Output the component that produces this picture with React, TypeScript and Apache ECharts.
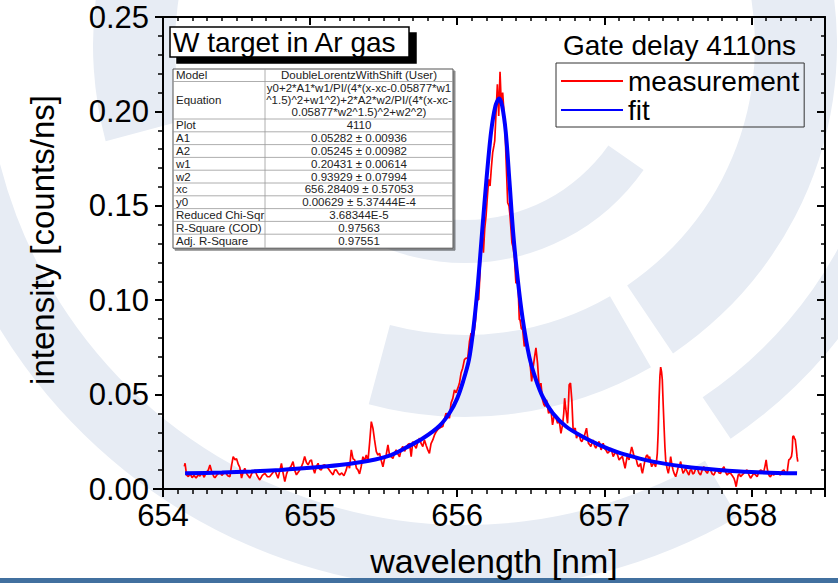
import React, { useEffect, useRef } from "react";
import * as echarts from "echarts";

// ---- data (wavelength [nm], intensity [counts/ns]) ----
const measLeftWing: [number, number][] = [
  [654.145, 0.012], [654.15, 0.0136], [654.16, 0.0075], [654.172, 0.0066], [654.185, 0.008],
  [654.198, 0.006], [654.21, 0.0072], [654.225, 0.0058], [654.24, 0.0075], [654.251, 0.0068],
  [654.265, 0.0085], [654.28, 0.0062], [654.295, 0.009], [654.308, 0.01], [654.319, 0.0127],
  [654.33, 0.0095], [654.345, 0.0066], [654.353, 0.006], [654.37, 0.0078], [654.387, 0.009],
  [654.4, 0.0072], [654.421, 0.0092], [654.44, 0.007], [654.455, 0.0065], [654.465, 0.012],
  [654.477, 0.0171], [654.49, 0.0155], [654.5, 0.016], [654.512, 0.013], [654.522, 0.0115],
  [654.534, 0.0058], [654.545, 0.009], [654.556, 0.011], [654.57, 0.008], [654.59, 0.0058],
  [654.605, 0.0085], [654.624, 0.01], [654.64, 0.007], [654.658, 0.0048], [654.675, 0.0072],
  [654.692, 0.0083], [654.71, 0.0065], [654.726, 0.0066], [654.745, 0.0085], [654.76, 0.0101],
  [654.77, 0.008], [654.782, 0.0057], [654.795, 0.01], [654.805, 0.0136], [654.815, 0.009],
  [654.828, 0.0039], [654.84, 0.008], [654.85, 0.0101], [654.87, 0.012], [654.884, 0.0145],
  [654.895, 0.01], [654.907, 0.0075], [654.925, 0.0095], [654.941, 0.0118], [654.952, 0.014],
  [654.963, 0.0172], [654.975, 0.014], [654.986, 0.0128], [655.0, 0.015], [655.009, 0.0154],
  [655.02, 0.011], [655.031, 0.0083], [655.043, 0.012], [655.054, 0.0136], [655.065, 0.0105],
  [655.076, 0.0101], [655.088, 0.0125], [655.099, 0.0128], [655.11, 0.0118], [655.122, 0.011],
  [655.14, 0.009], [655.156, 0.0075], [655.167, 0.01], [655.178, 0.0101], [655.19, 0.0085],
  [655.201, 0.0075],
];
const measRise: [number, number][] = [
  [655.215, 0.0085], [655.23, 0.007], [655.245, 0.01], [655.257, 0.0136], [655.268, 0.011],
  [655.28, 0.0207], [655.292, 0.016], [655.303, 0.0154], [655.315, 0.011], [655.325, 0.0101],
  [655.336, 0.008], [655.347, 0.0118], [655.359, 0.0171], [655.37, 0.015], [655.382, 0.018],
  [655.393, 0.0145], [655.405, 0.025], [655.416, 0.0357], [655.427, 0.0322], [655.438, 0.026],
  [655.45, 0.0198], [655.461, 0.018], [655.472, 0.0189], [655.484, 0.015], [655.495, 0.0118],
  [655.506, 0.016], [655.517, 0.018], [655.529, 0.0234], [655.54, 0.018], [655.552, 0.017],
  [655.563, 0.0162], [655.574, 0.019], [655.585, 0.0207], [655.597, 0.0185], [655.608, 0.0171],
  [655.619, 0.021], [655.63, 0.0225], [655.642, 0.02], [655.653, 0.0216], [655.664, 0.0235],
  [655.676, 0.0242], [655.687, 0.0171], [655.698, 0.0251], [655.71, 0.023], [655.721, 0.0216],
  [655.732, 0.025], [655.744, 0.0269], [655.755, 0.024], [655.766, 0.0225], [655.777, 0.026],
  [655.789, 0.023], [655.8, 0.0207], [655.811, 0.0189], [655.822, 0.024], [655.834, 0.026],
  [655.845, 0.0285], [655.857, 0.0304], [655.868, 0.0315], [655.879, 0.0322], [655.89, 0.0328],
  [655.902, 0.0331], [655.913, 0.037], [655.924, 0.0402], [655.936, 0.0385], [655.947, 0.0375],
  [655.958, 0.0455], [655.97, 0.048], [655.981, 0.0525], [655.992, 0.051], [656.004, 0.0534],
  [656.015, 0.056], [656.026, 0.0614], [656.037, 0.064], [656.049, 0.0685], [656.06, 0.0694],
  [656.071, 0.069],
];
const measPeak: [number, number][] = [
  [656.083, 0.078], [656.094, 0.0826], [656.105, 0.0791], [656.117, 0.0844], [656.125, 0.09],
  [656.132, 0.103], [656.14, 0.1003], [656.146, 0.1003], [656.155, 0.115], [656.162, 0.13],
  [656.169, 0.1357], [656.178, 0.1251], [656.187, 0.138], [656.196, 0.1446], [656.205, 0.155],
  [656.214, 0.164], [656.223, 0.1605], [656.232, 0.17], [656.241, 0.1782], [656.25, 0.182],
  [656.255, 0.1844], [656.264, 0.1995], [656.273, 0.2144], [656.282, 0.1976], [656.291, 0.221],
  [656.3, 0.2029], [656.309, 0.21], [656.318, 0.1994], [656.325, 0.19], [656.332, 0.1747],
  [656.343, 0.1516], [656.352, 0.15], [656.359, 0.1446], [656.372, 0.1304], [656.38, 0.128],
  [656.388, 0.1233], [656.399, 0.1091], [656.413, 0.1091], [656.422, 0.0897], [656.427, 0.0897],
];
const measFall: [number, number][] = [
  [656.436, 0.085], [656.445, 0.0844], [656.456, 0.0755], [656.467, 0.0791], [656.479, 0.0738],
  [656.49, 0.0711], [656.498, 0.064], [656.506, 0.057], [656.517, 0.065], [656.526, 0.07],
  [656.535, 0.0748], [656.546, 0.0667], [656.558, 0.0525], [656.569, 0.0561], [656.58, 0.0472],
  [656.588, 0.045], [656.596, 0.0437], [656.607, 0.0472], [656.621, 0.0401], [656.637, 0.0419],
  [656.648, 0.034], [656.657, 0.038], [656.666, 0.0393], [656.682, 0.0348], [656.693, 0.0366],
  [656.705, 0.0295], [656.716, 0.034], [656.724, 0.04], [656.73, 0.0481], [656.739, 0.0419],
  [656.75, 0.0348], [656.756, 0.045], [656.761, 0.0552], [656.77, 0.0561], [656.779, 0.0472],
  [656.788, 0.0313], [656.802, 0.0322], [656.811, 0.0269], [656.82, 0.029], [656.829, 0.0295],
  [656.838, 0.026], [656.847, 0.0251], [656.863, 0.0278], [656.879, 0.0322], [656.892, 0.0242],
  [656.9, 0.0235], [656.908, 0.0225], [656.924, 0.026], [656.933, 0.023], [656.942, 0.0216],
  [656.955, 0.024], [656.965, 0.0251], [656.978, 0.0207], [656.992, 0.0242], [657.002, 0.0215],
  [657.01, 0.0207], [657.022, 0.019], [657.033, 0.0198], [657.046, 0.0216], [657.06, 0.0172],
  [657.078, 0.0198], [657.09, 0.018], [657.1, 0.0154],
];
const measRightWing: [number, number][] = [
  [657.112, 0.0165], [657.123, 0.0172], [657.132, 0.014], [657.141, 0.011], [657.15, 0.015],
  [657.157, 0.018], [657.168, 0.0154], [657.177, 0.019], [657.186, 0.0223], [657.194, 0.02],
  [657.202, 0.0172], [657.21, 0.0165], [657.218, 0.0154], [657.225, 0.013], [657.232, 0.0118],
  [657.24, 0.0125], [657.247, 0.0136], [657.253, 0.01], [657.259, 0.0083], [657.268, 0.012],
  [657.277, 0.0154], [657.285, 0.0175], [657.293, 0.018], [657.3, 0.016], [657.308, 0.0172],
  [657.315, 0.014], [657.322, 0.0118], [657.33, 0.013], [657.338, 0.0145], [657.344, 0.0125],
  [657.349, 0.0118], [657.355, 0.015], [657.36, 0.0189], [657.366, 0.03], [657.372, 0.0472],
  [657.378, 0.06], [657.383, 0.0646], [657.389, 0.062], [657.394, 0.0579], [657.4, 0.045],
  [657.406, 0.0331], [657.412, 0.022], [657.417, 0.0154], [657.426, 0.011], [657.435, 0.0083],
  [657.443, 0.012], [657.451, 0.0172], [657.459, 0.013], [657.467, 0.0101], [657.476, 0.008],
  [657.485, 0.0065], [657.494, 0.009], [657.503, 0.0118], [657.511, 0.0125], [657.519, 0.0145],
  [657.527, 0.011], [657.535, 0.0083], [657.544, 0.0095], [657.553, 0.011], [657.564, 0.009],
  [657.575, 0.0074], [657.584, 0.01], [657.593, 0.0101], [657.601, 0.008], [657.609, 0.0083],
  [657.62, 0.0105], [657.632, 0.011], [657.643, 0.0085], [657.654, 0.0074], [657.665, 0.01],
  [657.677, 0.0118], [657.688, 0.0095], [657.7, 0.0083], [657.711, 0.0105], [657.722, 0.0101],
  [657.733, 0.008], [657.745, 0.0074], [657.756, 0.0095], [657.768, 0.0101], [657.779, 0.0085],
  [657.79, 0.0083], [657.801, 0.0105], [657.813, 0.0118], [657.824, 0.009], [657.835, 0.0074],
  [657.846, 0.0085], [657.858, 0.0083], [657.87, 0.007], [657.881, 0.0057], [657.888, 0.004],
  [657.896, 0.0012], [657.903, 0.0045], [657.91, 0.0074], [657.918, 0.008], [657.926, 0.0065],
  [657.937, 0.0075], [657.948, 0.0083], [657.96, 0.0095], [657.971, 0.0101], [657.983, 0.0075],
  [657.994, 0.0057], [658.005, 0.007], [658.016, 0.0083], [658.028, 0.0075], [658.039, 0.0065],
  [658.05, 0.009], [658.062, 0.0101], [658.073, 0.0095], [658.084, 0.0092], [658.092, 0.012],
  [658.1, 0.0154], [658.107, 0.011], [658.114, 0.0083], [658.121, 0.007], [658.129, 0.0065],
  [658.14, 0.008], [658.152, 0.0074], [658.163, 0.0085], [658.175, 0.0092], [658.186, 0.008],
  [658.197, 0.0074], [658.209, 0.0095], [658.22, 0.0101], [658.231, 0.0085], [658.242, 0.0083],
  [658.248, 0.012], [658.254, 0.0154], [658.263, 0.016], [658.272, 0.0172], [658.277, 0.02],
  [658.281, 0.0277], [658.287, 0.0281], [658.292, 0.027], [658.298, 0.026], [658.304, 0.022],
  [658.31, 0.017], [658.315, 0.0145],
];
const fitCurve: [number, number][] = [
  [654.15, 0.0083], [654.4, 0.0087], [654.6, 0.0093], [654.8, 0.0101], [655.0, 0.0112],
  [655.2, 0.0127], [655.4, 0.015], [655.55, 0.018], [655.65, 0.0218], [655.77, 0.027],
  [655.88, 0.0335], [655.95, 0.0405], [656.0, 0.048], [656.04, 0.057], [656.08, 0.0685],
  [656.11, 0.085], [656.14, 0.108], [656.17, 0.137], [656.2, 0.165], [656.23, 0.189],
  [656.26, 0.203], [656.285, 0.2068], [656.305, 0.203], [656.33, 0.189], [656.355, 0.163],
  [656.38, 0.136], [656.41, 0.112], [656.445, 0.09], [656.49, 0.07], [656.535, 0.0579],
  [656.58, 0.049], [656.65, 0.0401], [656.74, 0.0331], [656.85, 0.0278], [656.965, 0.0234],
  [657.08, 0.0198], [657.2, 0.017], [657.33, 0.0145], [657.55, 0.0118], [657.78, 0.0101],
  [658.0, 0.009], [658.31, 0.0083],
];

const tableLabels = [
  "Model", "Equation", "Plot", "A1", "A2", "w1", "w2", "xc", "y0",
  "Reduced Chi-Sqr", "R-Square (COD)", "Adj. R-Square",
];
const tableValues = [
  "DoubleLorentzWithShift (User)",
  "y0+2*A1*w1/PI/(4*(x-xc-0.05877*w1\n^1.5)^2+w1^2)+2*A2*w2/PI/(4*(x-xc-\n0.05877*w2^1.5)^2+w2^2)",
  "4110", "0.05282 ± 0.00936", "0.05245 ± 0.00982", "0.20431 ± 0.00614",
  "0.93929 ± 0.07994", "656.28409 ± 0.57053", "0.00629 ± 5.37444E-4",
  "3.68344E-5", "0.97563", "0.97551",
];
const tableRowHeights = [12.5, 37.5, 12.8, 12.8, 12.8, 12.8, 12.8, 12.8, 12.8, 12.8, 12.8, 14];

// faint background logo: ring pieces [innerR, outerR, startDeg, endDeg]
const logoPieces: [number, number, number, number][] = [
  [175, 218, 35, 145],
  [290, 372, -20, 56],
  [290, 372, 60, 105],
  [290, 372, 165, 210],
  [425, 475, 25, 56],
  [480, 545, 60, 182],
];

const FONT = "'Liberation Sans', Arial, Helvetica, sans-serif";

function buildLogo() {
  const cx = 465, cy = 45;
  return logoPieces.map(([r0, r, a0, a1]) => ({
    type: "sector",
    silent: true,
    z: -10,
    shape: { cx, cy, r0, r, startAngle: (a0 * Math.PI) / 180, endAngle: (a1 * Math.PI) / 180, clockwise: true },
    style: { fill: "#e7ecf4" },
  }));
}

function buildTable() {
  const x0 = 173, y0 = 69, w = 280, split = 265;
  const total = tableRowHeights.reduce((a, b) => a + b, 0);
  const els: any[] = [
    {
      type: "rect",
      shape: { x: x0, y: y0, width: w, height: total },
      style: { fill: "#fff", stroke: "#555", lineWidth: 1, shadowColor: "rgba(0,0,0,0.45)", shadowOffsetX: 2, shadowOffsetY: 2, shadowBlur: 1 },
      z: 10,
    },
    {
      type: "line",
      shape: { x1: split, y1: y0, x2: split, y2: y0 + total },
      style: { stroke: "#999", lineWidth: 0.8 },
      z: 11,
    },
  ];
  let y = y0;
  tableLabels.forEach((lab, i) => {
    const h = tableRowHeights[i];
    if (i > 0) {
      els.push({
        type: "line",
        shape: { x1: x0, y1: y, x2: x0 + w, y2: y },
        style: { stroke: "#999", lineWidth: 0.8 },
        z: 11,
      });
    }
    els.push({
      type: "text",
      x: x0 + 3,
      y: y + h / 2,
      style: { text: lab, fontSize: 11.5, fontFamily: FONT, fill: "#222", verticalAlign: "middle" },
      z: 12,
    });
    els.push({
      type: "text",
      x: (split + x0 + w) / 2,
      y: y + h / 2,
      style: {
        text: tableValues[i], fontSize: 11.5, fontFamily: FONT, fill: "#222",
        align: "center", verticalAlign: "middle", lineHeight: 12,
      },
      z: 12,
    });
    y += h;
  });
  return els;
}

export default function App() {
  const ref = useRef<HTMLDivElement>(null);
  useEffect(() => {
    if (!ref.current) return;
    const chart = echarts.init(ref.current, undefined, { renderer: "svg" });
    const measurement = [
      ...measLeftWing, ...measRise, ...measPeak, ...measFall, ...measRightWing,
    ];
    const axisLine = { show: true, onZero: false, lineStyle: { color: "#000", width: 2 } };
    const option: any = {
      animation: false,
      backgroundColor: "#fff",
      textStyle: { fontFamily: FONT },
      grid: { left: 163, right: 13, top: 17, bottom: 94, containLabel: false, outerBoundsMode: "none" },
      title: [
        {
          text: "W target in Ar gas",
          left: 170, top: 27,
          padding: [1, 12, 1, 3],
          borderColor: "#000", borderWidth: 1.5, backgroundColor: "#fff",
          shadowColor: "#000", shadowBlur: 0, shadowOffsetX: 7, shadowOffsetY: 6,
          textStyle: { fontSize: 28, fontWeight: "normal", color: "#000", fontFamily: FONT },
          z: 8,
        },
        {
          text: "Gate delay 4110ns",
          left: 563, top: 31, padding: 0,
          textStyle: { fontSize: 28, fontWeight: "normal", color: "#000", fontFamily: FONT },
        },
      ],
      legend: {
        orient: "vertical",
        left: 556, top: 63,
        padding: [4, 5, 3, 4],
        itemGap: 1, itemWidth: 62, itemHeight: 28,
        borderColor: "#333", borderWidth: 1, borderRadius: 0,
        itemStyle: { opacity: 0 },
        textStyle: { fontSize: 28, color: "#000", fontFamily: FONT },
        data: ["measurement", "fit"],
      },
      xAxis: [
        {
          type: "value", position: "bottom", min: 654, max: 658.5, interval: 1,
          axisLine,
          axisTick: { show: true, inside: false, length: 8, lineStyle: { color: "#000", width: 2 } },
          minorTick: { show: true, splitNumber: 10, length: 5, lineStyle: { color: "#000", width: 1.5 } },
          splitLine: { show: false }, minorSplitLine: { show: false },
          axisLabel: {
            fontSize: 31, color: "#000", margin: 11, fontFamily: FONT,
            formatter: (v: number) => (Math.abs(v - Math.round(v)) < 1e-6 ? String(Math.round(v)) : ""),
          },
          name: "wavelength [nm]", nameLocation: "middle", nameGap: 55,
          nameTextStyle: { fontSize: 34, color: "#000", fontFamily: FONT },
        },
        {
          type: "value", position: "top", min: 654, max: 658.5, interval: 1,
          axisLine,
          axisTick: { show: true, inside: true, length: 8, lineStyle: { color: "#000", width: 2 } },
          minorTick: { show: true, splitNumber: 10, length: 4, lineStyle: { color: "#000", width: 1.5 } },
          splitLine: { show: false }, axisLabel: { show: false },
        },
      ],
      yAxis: [
        {
          type: "value", position: "left", min: 0, max: 0.25, interval: 0.05,
          axisLine,
          axisTick: { show: true, inside: false, length: 8, lineStyle: { color: "#000", width: 2 } },
          minorTick: { show: true, splitNumber: 5, length: 5, lineStyle: { color: "#000", width: 1.5 } },
          splitLine: { show: false }, minorSplitLine: { show: false },
          axisLabel: {
            fontSize: 31, color: "#000", margin: 14, fontFamily: FONT,
            formatter: (v: number) => v.toFixed(2),
          },
          name: "intensity [counts/ns]", nameLocation: "middle", nameGap: 104,
          nameTextStyle: { fontSize: 33, color: "#000", fontFamily: FONT, padding: [0, 0, 0, 26] },
        },
        {
          type: "value", position: "right", min: 0, max: 0.25, interval: 0.05,
          axisLine,
          axisTick: { show: true, inside: true, length: 8, lineStyle: { color: "#000", width: 2 } },
          minorTick: { show: true, splitNumber: 5, length: 4, lineStyle: { color: "#000", width: 1.5 } },
          splitLine: { show: false }, axisLabel: { show: false },
        },
      ],
      series: [
        {
          name: "measurement", type: "line", xAxisIndex: 0, yAxisIndex: 0,
          data: measurement, symbol: "none", showSymbol: false,
          lineStyle: { color: "#ff0000", width: 1.7 }, itemStyle: { color: "#ff0000" },
          z: 3,
        },
        {
          name: "fit", type: "line", xAxisIndex: 0, yAxisIndex: 0,
          data: fitCurve, symbol: "none", showSymbol: false, smooth: 0.3,
          lineStyle: { color: "#0000ff", width: 4 }, itemStyle: { color: "#0000ff" },
          z: 4,
        },
      ],
      graphic: [
        ...buildLogo(),
        {
          type: "rect", left: 0, top: 578, shape: { width: 838, height: 5 },
          style: { fill: "#41709f" }, z: 0,
        },
        {
          type: "line", shape: { x1: 153, y1: 489, x2: 163, y2: 489 },
          style: { stroke: "#000", lineWidth: 2 }, z: 5,
        },
        ...buildTable(),
      ],
    };
    chart.setOption(option);
    return () => chart.dispose();
  }, []);
  return (
    <div
      ref={ref}
      style={{ position: "fixed", left: 0, top: 0, width: 838, height: 583 }}
    />
  );
}
